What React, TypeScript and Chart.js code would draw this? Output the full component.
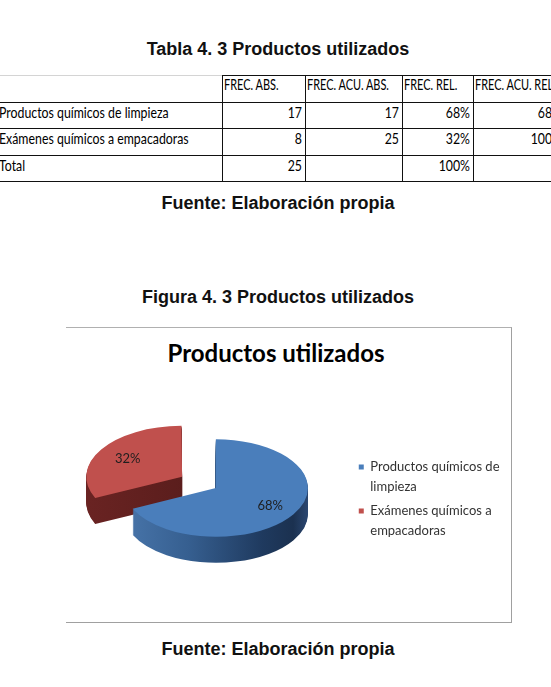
import React, { useEffect, useRef } from 'react';
import { Chart, registerables } from 'chart.js';

Chart.register(...registerables);

// ---------- data ----------
const categories = ['Productos químicos de limpieza', 'Exámenes químicos a empacadoras'];
const legendLines = [['Productos químicos de', 'limpieza'], ['Exámenes químicos a', 'empacadoras']];
const tableHeaders = ['FREC. ABS.', 'FREC. ACU. ABS.', 'FREC. REL.', 'FREC. ACU. REL.'];
const frecAbs = [17, 8];
const frecAcuAbs = [17, 25];
const frecRel = [68, 32];
const frecAcuRel = [68, 100];
const totalLabel = 'Total';
const totalAbs = 25;
const totalRel = 100;

// ---------- styles ----------
const sliceColors = ['#4a7ebb', '#c0504d'];
const sliceOffsets = [0, 160];
const K = 0.53; // vertical squash of the 3D pie
const DEPTH = 26;
const LIFT = 14;

const pie3d = {
  id: 'pie3d',
  beforeDatasetsDraw(chart: any) {
    const ctx: CanvasRenderingContext2D = chart.ctx;
    const arcs = chart.getDatasetMeta(0).data as any[];
    if (!arcs.length) return;
    const cx = arcs[0].x;
    const cy = arcs[0].y;
    const r = arcs[0].outerRadius;
    const fills = arcs.map((arc: any, i: number) => {
      const mid = (arc.startAngle + arc.endAngle) / 2;
      const off = (arc.options.offset || 0) / 4;
      const ax = cx + Math.cos(mid) * off;
      const g = ctx.createLinearGradient(ax - r, 0, ax + r, 0);
      if (i === 0) {
        g.addColorStop(0, '#4875aa');
        g.addColorStop(0.35, '#365f90');
        g.addColorStop(0.75, '#1f3a5f');
        g.addColorStop(0.92, '#1b3150');
        g.addColorStop(1, '#2a4670');
      } else {
        g.addColorStop(0, '#6e2524');
        g.addColorStop(1, '#521a19');
      }
      return g;
    });
    for (let d = DEPTH; d >= 1; d--) {
      arcs.forEach((arc: any, i: number) => {
        ctx.save();
        ctx.translate(0, d - LIFT);
        ctx.translate(cx, cy);
        ctx.scale(1, K);
        ctx.translate(-cx, -cy);
        const clone = Object.create(arc);
        clone.options = { ...arc.options, backgroundColor: fills[i], borderWidth: 0 };
        clone.draw(ctx);
        ctx.restore();
      });
    }
    ctx.save();
    ctx.translate(0, -LIFT);
    ctx.translate(cx, cy);
    ctx.scale(1, K);
    ctx.translate(-cx, -cy);
  },
  afterDatasetsDraw(chart: any) {
    const ctx: CanvasRenderingContext2D = chart.ctx;
    ctx.restore();
    const meta = chart.getDatasetMeta(0);
    const arcs = meta.data as any[];
    const values = chart.data.datasets[0].data as number[];
    const total = values.reduce((a, b) => a + b, 0);
    ctx.save();
    ctx.font = '13px Lato';
    ctx.fillStyle = '#1e1e1e';
    ctx.textAlign = 'center';
    ctx.textBaseline = 'middle';
    arcs.forEach((arc: any, i: number) => {
      const mid = (arc.startAngle + arc.endAngle) / 2;
      const off = (arc.options.offset || 0) / 4;
      const rr = arc.outerRadius * 0.7 + off;
      const px = arc.x + Math.cos(mid) * rr;
      const py = arc.y - LIFT + Math.sin(mid) * rr * K;
      ctx.fillText(Math.round((values[i] / total) * 100) + '%', px, py);
    });
    ctx.restore();
  },
};

// ---------- layout ----------
const colX = [-40, 222, 305, 402, 473, 565];
const rowY = [75, 102, 128, 155, 181];
const docFont = '"Liberation Sans", Arial, sans-serif';
const cellFont = 'Lato, sans-serif';

function Centered({ text, y }: { text: string; y: number }) {
  return (
    <div
      style={{
        position: 'absolute',
        left: 0,
        width: 556,
        top: y - 10,
        height: 20,
        lineHeight: '20px',
        textAlign: 'center',
        font: `bold 18px ${docFont}`,
        color: '#111',
        whiteSpace: 'nowrap',
      }}
    >
      {text}
    </div>
  );
}

function Cell({ text, col, row, align, header }: { text: string; col: number; row: number; align: 'left' | 'right'; header?: boolean }) {
  const left = colX[col];
  const width = colX[col + 1] - colX[col];
  const top = rowY[row];
  const height = rowY[row + 1] - rowY[row];
  return (
    <div
      style={{
        position: 'absolute',
        left: align === 'left' ? (col === 0 ? -1 : left + 2) : left,
        width: align === 'left' ? width : width - 3,
        top,
        height,
        lineHeight: height + 'px',
        textAlign: align,
        whiteSpace: 'nowrap',
        font: `${header ? 15 : 16}px ${cellFont}`,
        color: '#000',
        transform: `scaleX(${header ? 0.73 : 0.77})`,
        transformOrigin: align === 'left' ? 'left center' : 'right center',
      }}
    >
      {text}
    </div>
  );
}

function Line({ x, y, w, h, color }: { x: number; y: number; w: number; h: number; color: string }) {
  return <div style={{ position: 'absolute', left: x, top: y, width: w, height: h, background: color }} />;
}

export default function App() {
  const canvasRef = useRef<HTMLCanvasElement>(null);

  useEffect(() => {
    const canvas = canvasRef.current;
    if (!canvas) return;
    const baseGen = (Chart as any).overrides.doughnut.plugins.legend.labels.generateLabels;
    const chart = new Chart(canvas, {
      type: 'doughnut',
      data: {
        labels: categories,
        datasets: [
          {
            data: frecAbs,
            backgroundColor: sliceColors,
            borderWidth: 0,
            offset: sliceOffsets,
            hoverOffset: 0,
            clip: false,
          } as any,
        ],
      },
      options: {
        responsive: false,
        animation: false,
        devicePixelRatio: 1,
        cutout: 0,
        radius: 92,
        events: [],
        layout: { padding: { left: 12, right: 1.5, top: 0, bottom: 0 } },
        plugins: {
          title: { display: false },
          tooltip: { enabled: false },
          legend: {
            position: 'right',
            align: 'center',
            labels: {
              boxWidth: 5,
              boxHeight: 5,
              padding: 5,
              color: '#333',
              font: { family: 'Lato', size: 13, lineHeight: 1.5 },
              generateLabels: (c: any) =>
                baseGen(c).map((item: any, i: number) => ({ ...item, text: legendLines[i] })),
            },
          },
        },
      } as any,
      plugins: [pie3d],
    });
    return () => chart.destroy();
  }, []);

  const rows: (string | number)[][] = [
    [categories[0], frecAbs[0], frecAcuAbs[0], frecRel[0] + '%', frecAcuRel[0] + '%'],
    [categories[1], frecAbs[1], frecAcuAbs[1], frecRel[1] + '%', frecAcuRel[1] + '%'],
    [totalLabel, totalAbs, '', totalRel + '%', ''],
  ];

  return (
    <div style={{ position: 'fixed', left: 0, top: 0, width: 551, height: 687, overflow: 'hidden', background: '#fff' }}>
      <Centered text="Tabla 4. 3 Productos utilizados" y={49} />

      {/* table grid */}
      <Line x={0} y={75} w={551} h={1} color="#d4d4d4" />
      <Line x={222} y={75} w={340} h={1} color="#111" />
      {rowY.slice(1).map((y) => (
        <Line key={'h' + y} x={0} y={y} w={551} h={1} color="#111" />
      ))}
      {colX.slice(1, 5).map((x) => (
        <Line key={'v' + x} x={x} y={75} w={1} h={106} color="#111" />
      ))}
      {tableHeaders.map((h, i) => (
        <Cell key={'th' + i} text={h} col={i + 1} row={0} align="left" header />
      ))}
      {rows.map((r, ri) =>
        r.map((v, ci) => (
          <Cell key={ri + '-' + ci} text={String(v)} col={ci} row={ri + 1} align={ci === 0 ? 'left' : 'right'} />
        ))
      )}

      <Centered text="Fuente: Elaboración propia" y={203} />
      <Centered text="Figura 4. 3 Productos utilizados" y={297} />

      {/* chart frame */}
      <div
        style={{
          position: 'absolute',
          left: 66,
          top: 327,
          width: 446,
          height: 296,
          boxSizing: 'border-box',
          borderTop: '1px solid #b0b0b0',
          borderRight: '1px solid #a0a0a0',
          borderBottom: '1px solid #a0a0a0',
        }}
      />
      <div
        style={{
          position: 'absolute',
          left: 66,
          width: 420,
          top: 338,
          height: 30,
          lineHeight: '30px',
          textAlign: 'center',
          font: 'bold 24px Lato, sans-serif',
          color: '#000',
          whiteSpace: 'nowrap',
        }}
      >
        Productos utilizados
      </div>
      <canvas
        ref={canvasRef}
        width={445}
        height={240}
        style={{ position: 'absolute', left: 66, top: 382, width: 445, height: 240 }}
      />

      <Centered text="Fuente: Elaboración propia" y={649} />
    </div>
  );
}
